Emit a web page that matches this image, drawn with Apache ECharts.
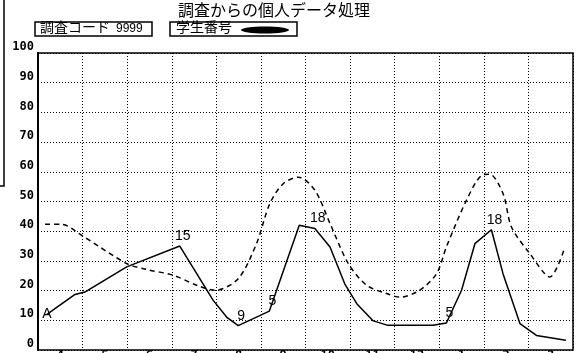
<!DOCTYPE html>
<html>
<head>
<meta charset="utf-8">
<script src="https://cdn.jsdelivr.net/npm/echarts@6/dist/echarts.min.js"></script>
<style>
    html, body { margin: 0; padding: 0; background: #fff; }
    #chart { width: 577px; height: 353px; }
</style>
</head>
<body>
<div id="chart"></div>
<script>
    // months along the bottom (April .. March)
    var months = ['4', '5', '6', '7', '8', '9', '10', '11', '12', '1', '2', '3']
    var yTicks = [0, 10, 20, 30, 40, 50, 60, 70, 80, 90, 100]

    // solid line: x in month units from the left edge, y value, point label
    var solidX = [0.2, 0.83, 1.05, 1.99, 3.18, 3.93, 4.23, 4.49, 5.19, 5.86, 6.21, 6.55, 6.88, 7.15, 7.52, 7.85, 8.86, 9.16, 9.5, 9.8, 10.17, 10.43, 10.81, 11.18, 11.84]
    var solidY = [12, 18.7, 19.5, 28, 35, 16.7, 11.1, 8.2, 13.1, 42, 40.9, 34.7, 22.3, 15.6, 9.8, 8.3, 8.3, 9.1, 20.1, 35.8, 40.5, 25.7, 8.9, 4.9, 3.3]
    var solidLabels = ['A', '', '', '', '15', '', '', '9', '5', '', '18', '', '', '', '', '', '', '5', '', '', '18', '', '', '', '']

    // dashed line
    var dashX = [0.16, 0.53, 0.98, 1.99, 2.44, 3.03, 3.56, 3.97, 4.49, 4.9, 5.2, 5.5, 5.84, 6.21, 6.55, 6.96, 7.37, 7.82, 8.12, 8.56, 8.94, 9.16, 9.61, 9.95, 10.13, 10.43, 10.62, 11.03, 11.48, 11.82]
    var dashY = [42.3, 42.3, 38.6, 29.1, 27.1, 25.2, 21.8, 20.1, 24, 35.8, 49.3, 56, 58.2, 53.8, 42.6, 29.1, 21.8, 19, 17.8, 20.1, 25.7, 34.7, 50.4, 58.8, 59.2, 52.7, 41.4, 32.5, 24.6, 34.7]

    var myChart = echarts.init(document.getElementById('chart'))

    var solidData = solidX.map(function (x, i) {
        var lab = solidLabels[i]
        return {
            value: [x, solidY[i]],
            label: lab
                ? { show: true, formatter: lab, position: lab === 'A' ? 'inside' : 'top', offset: lab === 'A' ? [0, 0] : [3, 2] }
                : { show: false }
        }
    })
    var dashData = dashX.map(function (x, i) { return [x, dashY[i]] })

    var options = {
        animation: false,
        backgroundColor: '#fff',
        grid: {
            left: 38, right: 4, top: 53, bottom: 3,
            outerBoundsMode: 'none',
            containLabel: false,
            show: true,
            borderColor: '#000',
            borderWidth: 1.5
        },
        xAxis: [
            {
                type: 'value',
                min: 0, max: 12, interval: 1,
                axisLine: { show: false },
                axisTick: { show: false },
                axisLabel: { show: false },
                splitLine: { show: true, lineStyle: { color: '#000', type: [1, 2], width: 1 } }
            },
            {
                type: 'category',
                data: months,
                position: 'bottom',
                boundaryGap: true,
                axisLine: { show: false },
                axisTick: { show: false },
                splitLine: { show: false },
                axisLabel: { margin: 0, color: '#000', fontFamily: 'DejaVu Sans Mono', fontWeight: 'bold', fontSize: 12 }
            }
        ],
        yAxis: {
            type: 'value',
            min: 0, max: 100, interval: 10,
            axisLine: { show: true, lineStyle: { color: '#000', width: 2 } },
            axisTick: { show: false },
            axisLabel: {
                margin: 4,
                verticalAlign: 'bottom',
                color: '#000',
                fontFamily: 'DejaVu Sans Mono',
                fontWeight: 'bold',
                fontSize: 12,
                formatter: function (v) { return yTicks.indexOf(v) >= 0 ? String(v) : '' }
            },
            splitLine: { show: true, lineStyle: { color: '#000', type: [1, 2], width: 1 } }
        },
        series: [
            {
                type: 'line',
                xAxisIndex: 0,
                data: dashData,
                smooth: 0.3,
                showSymbol: false,
                lineStyle: { color: '#000', width: 1.5, type: [5, 4] },
                z: 3
            },
            {
                type: 'line',
                xAxisIndex: 0,
                data: solidData,
                showSymbol: true,
                showAllSymbol: true,
                symbol: 'circle',
                symbolSize: 0,
                itemStyle: { color: '#000' },
                lineStyle: { color: '#000', width: 1.5 },
                label: {
                    color: '#000',
                    fontFamily: 'Liberation Sans',
                    fontSize: 14
                },
                z: 4
            }
        ],
        graphic: [
            // scan edge on the left
            { type: 'polyline', shape: { points: [[4, 0], [4, 186], [0, 186]] }, style: { stroke: '#000', lineWidth: 1.5, fill: null } },
            {
                type: 'text', left: 178, top: 2,
                style: { text: '調査からの個人データ処理', fontFamily: 'Noto Sans CJK JP', fontSize: 16, fill: '#000' }
            },
            { type: 'rect', shape: { x: 35, y: 22, width: 117, height: 14 }, style: { stroke: '#000', lineWidth: 1.5, fill: null } },
            {
                type: 'text', left: 40, top: 20,
                style: { text: '調査コード', fontFamily: 'Noto Sans CJK JP', fontSize: 14, fill: '#000' }
            },
            {
                type: 'text', left: 116, top: 23,
                style: { text: '9999', fontFamily: 'Liberation Sans', fontSize: 12, fill: '#000' }
            },
            { type: 'rect', shape: { x: 170, y: 22, width: 127, height: 14 }, style: { stroke: '#000', lineWidth: 1.5, fill: null } },
            {
                type: 'text', left: 176, top: 20,
                style: { text: '学生番号', fontFamily: 'Noto Sans CJK JP', fontSize: 14, fill: '#000' }
            },
            { type: 'ellipse', shape: { cx: 265, cy: 30, rx: 24, ry: 3.5 }, style: { fill: '#000' } }
        ]
    }

    myChart.setOption(options)
    window.addEventListener('resize', myChart.resize)
</script>
</body>
</html>
